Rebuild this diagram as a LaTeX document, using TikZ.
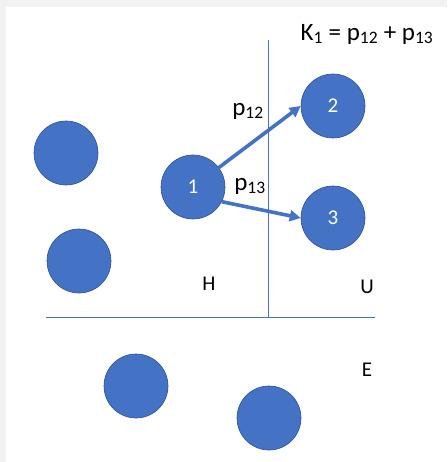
\documentclass[tikz,border=0pt]{standalone}
\usepackage{fontspec}
\setmainfont{Carlito}
\usetikzlibrary{arrows.meta}
\definecolor{ballblue}{HTML}{4472C4}
\definecolor{balledge}{HTML}{2F528F}
\definecolor{framegray}{HTML}{F2F2F2}
\newcommand{\sub}[1]{\textsubscript{#1}}
\begin{document}
\begin{tikzpicture}[
x=1pt, y=-1pt,
ball/.style={circle, fill=ballblue, draw=balledge, line width=0.6pt,
  minimum size=64pt, inner sep=0pt, text=white, font=\fontsize{21}{21}\selectfont},
region/.style={font=\fontsize{21}{21}\selectfont},
prob/.style={font=\fontsize{25}{25}\selectfont},
border/.style={ballblue, line width=0.9pt},
move/.style={ballblue, line width=3.6pt, -{Triangle[length=11pt,width=11pt]}}
]
\useasboundingbox (0,0) rectangle (447,462);
\fill[white] (0,0) rectangle (447,462);
\fill[framegray] (0,0) rectangle (447,7);
\fill[framegray] (0,0) rectangle (6,462);

% borders between regions
\coordinate (top) at (268,40);
\coordinate (cross) at (268,317);
\coordinate (left) at (46,317);
\coordinate (right) at (375,317);
\draw[border] (top) -- (cross);
\draw[border] (left) -- (right);

\node[ball] (n1) at (193,187) {1};
\node[ball] (n2) at (333,106) {2};
\node[ball] (n3) at (333,218) {3};
\node[ball] (h1) at (66,153) {};
\node[ball] (h2) at (79,261) {};
\node[ball] (e1) at (136,386) {};
\node[ball] (e2) at (269,418) {};

\draw[move] (n1) -- (n2.west);
\draw[move] (n1.-27) -- (n3.west);

\node[prob] (p12) at (248,111) {p\sub{12}};
\node[prob] (p13) at (250,186) {p\sub{13}};
\node[prob] (k1) at (367,34) {K\sub{1} = p\sub{12} + p\sub{13}};

\node[region] (lh) at (209,284) {H};
\node[region] (lu) at (367,287) {U};
\node[region] (le) at (367,370) {E};
\end{tikzpicture}
\end{document}
